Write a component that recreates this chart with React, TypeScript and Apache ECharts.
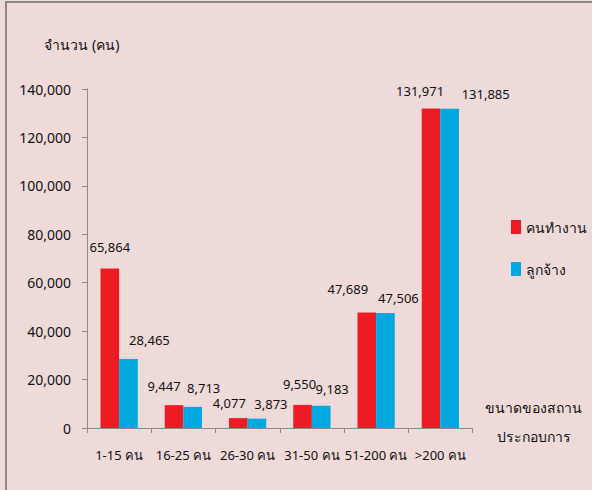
import React, { useEffect, useRef } from "react";
import * as echarts from "echarts";

const categories = ["1-15 คน", "16-25 คน", "26-30 คน", "31-50 คน", "51-200 คน", ">200 คน"];
const workers = [65864, 9447, 4077, 9550, 47689, 131971];
const employees = [28465, 8713, 3873, 9183, 47506, 131885];
const seriesNames = ["คนทำงาน", "ลูกจ้าง"];
const yTicks = [0, 20000, 40000, 60000, 80000, 100000, 120000, 140000];
const yAxisTitle = "จำนวน (คน)";
const xAxisTitle = ["ขนาดของสถาน", "ประกอบการ"];

const FONT = "Tahoma, 'Noto Sans', 'DejaVu Sans', sans-serif";
const fmt = (v: number) => v.toLocaleString("en-US");

export default function App() {
  const ref = useRef<HTMLDivElement>(null);
  useEffect(() => {
    if (!ref.current) return;
    // label nudges (layout only), relative to the default "top" label spot
    const workerShift = [[0, -10], [-10, -8], [-9, -4], [-3, -9], [-19, -12], [-11, -6]];
    const employeeShift = [[21, -8], [11, -7], [14, -3], [11, -5], [13, -3], [36, -3]];
    const labelBase = {
      show: true,
      position: "top",
      color: "#111",
      fontSize: 13,
      fontFamily: FONT,
      formatter: (p: any) => fmt(p.value),
    };
    const chart = echarts.init(ref.current, undefined, { renderer: "svg" });
    chart.setOption({
      animation: false,
      backgroundColor: "#EFDADA",
      textStyle: { fontFamily: FONT },
      grid: { left: 87, top: 89, right: 119.5, bottom: 62 },
      legend: {
        orient: "vertical",
        left: 506,
        top: 215,
        itemWidth: 10,
        itemHeight: 14,
        itemGap: 28,
        icon: "rect",
        textStyle: { fontFamily: FONT, fontSize: 14, color: "#111" },
        data: seriesNames,
      },
      xAxis: {
        type: "category",
        data: categories,
        axisLine: { lineStyle: { color: "#8c8c8c", width: 1 } },
        axisTick: { show: true, length: 5, lineStyle: { color: "#8c8c8c" } },
        axisLabel: { color: "#111", fontSize: 13, margin: 20, interval: 0, fontFamily: FONT },
      },
      yAxis: {
        type: "value",
        min: yTicks[0],
        max: yTicks[yTicks.length - 1],
        interval: yTicks[1] - yTicks[0],
        name: yAxisTitle,
        nameLocation: "end",
        nameGap: 38,
        nameTextStyle: { color: "#111", fontSize: 14, fontFamily: FONT, align: "center", padding: [0, 10, 0, 0] },
        axisLine: { show: true, lineStyle: { color: "#8c8c8c", width: 1 } },
        axisTick: { show: true, length: 5, lineStyle: { color: "#8c8c8c" } },
        splitLine: { show: false },
        axisLabel: { color: "#111", fontSize: 14, margin: 16, fontFamily: FONT, formatter: (v: number) => fmt(v) },
      },
      graphic: [
        {
          type: "text",
          left: 485,
          top: 400,
          style: { text: xAxisTitle[0], font: `14px ${FONT}`, fill: "#111" },
        },
        {
          type: "text",
          left: 497,
          top: 429,
          style: { text: xAxisTitle[1], font: `14px ${FONT}`, fill: "#111" },
        },
        {
          type: "rect",
          left: 5,
          top: 1,
          shape: { width: 2, height: 489 },
          style: { fill: "#8a8a8a" },
        },
        {
          type: "rect",
          left: 5,
          top: 1,
          shape: { width: 587, height: 2 },
          style: { fill: "#8a8a8a" },
        },
      ],
      series: [
        {
          name: seriesNames[0],
          type: "bar",
          data: workers.map((v, i) => ({ value: v, label: { offset: workerShift[i] } })),
          barGap: "0%",
          barCategoryGap: "42%",
          itemStyle: { color: "#ED1C24" },
          label: labelBase,
        },
        {
          name: seriesNames[1],
          type: "bar",
          data: employees.map((v, i) => ({ value: v, label: { offset: employeeShift[i] } })),
          itemStyle: { color: "#00A8E0" },
          label: labelBase,
        },
      ],
    });
    return () => chart.dispose();
  }, []);
  return <div ref={ref} style={{ position: "fixed", left: 0, top: 0, width: 592, height: 490 }} />;
}
